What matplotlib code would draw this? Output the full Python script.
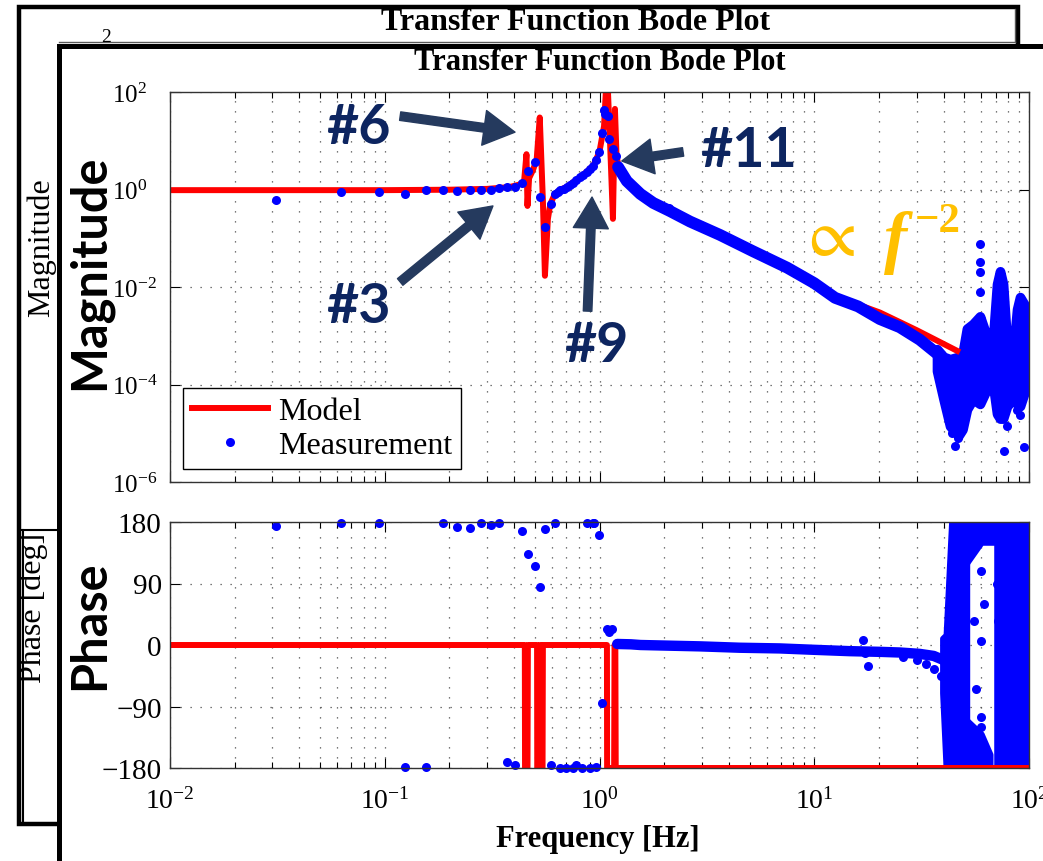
import numpy as np
import matplotlib.pyplot as plt
from matplotlib.patches import Rectangle
from matplotlib.lines import Line2D
from matplotlib.ticker import LogLocator, NullLocator, NullFormatter, LogFormatterMathtext

W, H = 1043, 862

plt.rcParams['font.family'] = ['Liberation Serif', 'DejaVu Serif']
plt.rcParams['mathtext.fontset'] = 'custom'
plt.rcParams['mathtext.rm'] = 'Liberation Serif'
plt.rcParams['mathtext.it'] = 'Liberation Serif:italic'
plt.rcParams['mathtext.bf'] = 'Liberation Serif:bold'

# ---- model (red) ----
model_f = [0.01, 0.1, 0.2, 0.3, 0.38, 0.42, 0.445, 0.457, 0.462, 0.47, 0.49, 0.51, 0.527,
           0.545, 0.557, 0.575, 0.59, 0.62, 0.66, 0.71, 0.76, 0.82, 0.88, 0.94, 1.0, 1.05,
           1.084, 1.12, 1.155, 1.18, 1.20, 1.23, 1.34, 1.55, 1.78, 2.13, 2.64, 3.64, 5.19,
           7.47, 12.5, 20.2, 30.0, 46.3]
model_mag = [0.97, 0.97, 0.99, 1.03, 1.12, 1.25, 1.4, 5.3, 0.46, 1.7, 2.5, 4.2, 30.0,
             0.6, 0.017, 0.25, 0.5, 0.82, 1.0, 1.15, 1.45, 1.85, 2.4, 3.2, 6.0, 20.0,
             300.0, 9.0, 0.25, 45.0, 5.0, 2.8, 1.5, 0.82, 0.54, 0.37, 0.24, 0.12, 0.054,
             0.026, 6.5e-3, 3.0e-3, 1.3e-3, 4.9e-4]
model_ph_f = [0.01, 0.449, 0.450, 0.462, 0.464, 0.512, 0.513, 0.527, 0.528, 0.531, 0.532,
              0.543, 0.545, 1.083, 1.085, 1.17, 1.175, 1.185, 1.19, 100]
model_ph = [0, 0, -180, -180, 0, 0, -180, -180, 0, 0, -180, -180, 0, 0, -180, -180, 0, 0,
            -180, -180]

# ---- measurement (blue), magnitude ----
meas_f = [0.0312, 0.0625, 0.094, 0.124, 0.156, 0.187, 0.217, 0.249, 0.281, 0.313, 0.340,
          0.371, 0.404, 0.435, 0.465, 0.501, 0.528, 0.557, 0.594, 0.621, 0.64, 0.655, 0.68,
          0.706, 0.73, 0.753, 0.78, 0.811, 0.84, 0.875, 0.90, 0.933, 0.96, 0.996, 1.03,
          1.047, 1.06, 1.09, 1.11, 1.15, 1.19, 1.22, 2.1]
meas_mag = [0.61, 0.89, 0.89, 0.81, 0.98, 0.98, 0.95, 0.98, 1.0, 0.98, 1.05,
            1.10, 1.14, 1.36, 2.4, 3.66, 0.70, 0.17, 0.50, 0.81, 0.90, 0.98, 1.03,
            1.1, 1.25, 1.39, 1.6, 1.8, 2.0, 2.29, 2.6, 3.0, 4.0, 5.9, 14.4,
            42.8, 36.0, 32.0, 10.9, 6.8, 4.9, 2.9, 0.42]
band_f = [1.22, 1.34, 1.55, 1.78, 2.13, 2.64, 3.64, 5.19, 7.47, 10.0, 12.5, 16.0, 20.2,
          25.0, 31.0, 37.3]
band_mag = [2.9, 1.49, 0.81, 0.53, 0.36, 0.22, 0.117, 0.054, 0.025, 0.012, 6.0e-3, 4.0e-3,
            2.2e-3, 1.5e-3, 8.3e-4, 4.3e-4]
cloud_f = [37.3, 40.0, 42.9, 47.0, 49.0, 51.4, 54.8, 59.1, 63.7, 68.0, 71.0, 73.3, 75.7,
           79.0, 84.3, 88.0, 90.8, 94.8, 100]
cloud_lo = [1.9e-4, 5.0e-5, 1.4e-5, 9.0e-6, 1.2e-5, 3.1e-5, 5.0e-5, 4.0e-5, 8.1e-5, 1.0e-4,
            2.5e-5, 2.0e-5, 2.0e-5, 3.6e-5, 5.0e-5, 4.0e-5, 3.6e-5, 6.4e-5, 1.3e-4]
cloud_hi = [5.3e-4, 3.7e-4, 3.3e-4, 3.7e-4, 4.2e-4, 1.4e-3, 1.74e-3, 2.5e-3, 9.4e-4, 8.6e-4,
            1.15e-2, 2.1e-2, 1.15e-2, 6.8e-4, 4.2e-4, 3.5e-3, 6.2e-3, 4.5e-3, 2.8e-3]
stray_f = [59.1, 59.1, 59.1, 59.1, 45.2, 46.5, 44.0, 48.0, 76.5, 94.8, 55.5, 60.0, 75.0,
           79.0, 88.0, 91.0]
stray_mag = [0.076, 0.0326, 0.0203, 7.9e-3, 5.5e-6, 8.0e-6, 1.0e-5, 1.1e-5, 4.3e-6, 5.2e-6,
             1.58e-3, 2.2e-3, 2.3e-5, 1.4e-5, 3.0e-5, 2.4e-5]

# ---- measurement (blue), phase ----
meas_ph_f = [0.0312, 0.0625, 0.094, 0.124, 0.156, 0.187, 0.217, 0.249, 0.281, 0.313, 0.340,
             0.371, 0.404, 0.435, 0.465, 0.501, 0.528, 0.557, 0.594, 0.621, 0.655, 0.70,
             0.75, 0.78, 0.83, 0.87, 0.90, 0.93, 0.94, 0.96, 0.996, 1.03, 1.084, 1.11, 1.14]
meas_ph = [174, 178.5, 178, -179, -179, 178, 172, 171, 178, 175, 178,
           -171, -176, 167, 133, 115, 85, 170, -176, 178, -180, -180,
           -180, -175, -180, 178, -180, 178, 178, -178, 161, -85, 23, 19, 23]
ph_band_f = [1.21, 1.4, 1.55, 2.13, 2.94, 4.5, 6.9, 9.9, 14.6, 20.2, 25.1, 31.0, 36.0, 40.0]
ph_band = [1.5, 1, 0, -1, -2, -4, -5, -7, -9, -10, -11, -13, -16, -22]
ph_stray_f = [16.8, 17.3, 17.8, 26, 30, 33, 36, 39, 41, 43, 59.5, 55.5, 59.5, 56.5, 59.5,
              59.5, 71.0, 88.0, 71.5, 62.0]
ph_stray = [8, -12, -31, -18, -22, -28, -35, -45, -55, -64, 108, 35, 6, -64, -105,
            -120, 89, 114, 35, 60]
cloudA_f = [39.5, 41.0, 43.5, 51.4]
cloudA_lo = [-70, -180, -180, -180]
cloudA_hi = [10, 15, 180, 180]
capTop_f = [51.4, 60.0, 69.6]
capTop_lo = [120, 150, 150]
capTop_hi = [180, 180, 180]
capBot_f = [51.4, 60.0, 66.0]
capBot_lo = [-180, -180, -180]
capBot_hi = [-110, -130, -160]
cloudB_f = [71.0, 80.0, 90.0, 100]
cloudB_lo = [-180, -180, -180, -180]
cloudB_hi = [180, 180, 180, 180]

xtick_vals = [1e-2, 1e-1, 1e0, 1e1, 1e2]
mag_ticks = [1e-6, 1e-4, 1e-2, 1e0, 1e2]
ph_ticks = [-180, -90, 0, 90, 180]

RED = '#ff0000'
BLUE = '#0000ff'
NAVY = '#0d2560'
ARROW = '#253a5e'
GOLD = '#ffc000'

fig = plt.figure(figsize=(W / 100, H / 100), dpi=100)

# background: stacked "slide" frames, coordinates in pixels
bg = fig.add_axes([0, 0, 1, 1])
bg.set_xlim(0, W)
bg.set_ylim(H, 0)
bg.axis('off')
bg.add_patch(Rectangle((19, 8), 999, 817, fc='white', ec='black', lw=3.2))
bg.plot([59, 1015], [43, 43], color='0.35', lw=1)
bg.plot([1015, 1015], [10, 43], color='0.35', lw=1)
bg.plot([23, 23], [531, 823], color='black', lw=1.5)
bg.plot([19, 59], [531, 531], color='black', lw=1.5)
bg.text(576, 23, 'Transfer Function Bode Plot', fontsize=23, fontweight='bold',
        ha='center', va='center')
bg.text(106, 38, '2', fontsize=14, ha='center', va='center')
bg.text(41, 248, 'Magnitude', fontsize=23, rotation=90, ha='center', va='center')
bg.text(33, 608, 'Phase [deg]', fontsize=23, rotation=90, ha='center', va='center')
bg.add_patch(Rectangle((59, 47), 1100, 900, fc='white', ec='black', lw=3.6))
bg.text(600, 63, 'Transfer Function Bode Plot', fontsize=22, fontweight='bold',
        ha='center', va='center')
bg.text(598, 840, 'Frequency [Hz]', fontsize=22, fontweight='bold', ha='center', va='center')
bg.text(104, 272, 'Magnitude', family='Lato', fontweight='bold', fontsize=35, rotation=90,
        rotation_mode='anchor', ha='center', va='baseline')
bg.text(104, 625, 'Phase', family='Lato', fontweight='bold', fontsize=35, rotation=90,
        rotation_mode='anchor', ha='center', va='baseline')

ax1 = fig.add_axes([170 / W, 1 - 483 / H, 859 / W, 390 / H])
ax2 = fig.add_axes([170 / W, 1 - 769 / H, 859 / W, 246 / H])

grid_kw = dict(ls=(0, (1, 7)), lw=0.9, color='0.3')
for ax in (ax1, ax2):
    ax.set_xscale('log')
    ax.set_xlim(1e-2, 1e2)
    ax.xaxis.set_major_locator(LogLocator(base=10, numticks=10))
    ax.xaxis.set_minor_locator(LogLocator(base=10, subs=np.arange(2, 10), numticks=20))
    ax.xaxis.set_minor_formatter(NullFormatter())
    ax.set_axisbelow(True)
    ax.xaxis.grid(True, which='both', **grid_kw)
    ax.yaxis.grid(True, which='major', **grid_kw)
    ax.tick_params(which='major', direction='in', length=7, width=0.8, top=True, right=True,
                   labelsize=20, pad=12)
    ax.tick_params(which='minor', direction='in', length=4, width=0.8, top=True, right=True)
    for s in ax.spines.values():
        s.set_color('0.2')
        s.set_linewidth(1.0)

# magnitude panel
model_line, = ax1.plot(model_f, model_mag, color=RED, lw=4.3)
ax1.plot(band_f, band_mag, color=BLUE, lw=8.5, solid_capstyle='round')
ax1.fill_between(cloud_f, cloud_lo, cloud_hi, color=BLUE, ec=BLUE, lw=7, joinstyle='round')
ax1.plot(meas_f, meas_mag, 'o', color=BLUE, ms=6.5, mec='none')
ax1.plot(stray_f, stray_mag, 'o', color=BLUE, ms=6.5, mec='none')
ax1.set_yscale('log')
ax1.set_ylim(1e-6, 1e2)
ax1.set_yticks(mag_ticks)
ax1.yaxis.set_major_formatter(LogFormatterMathtext())
ax1.yaxis.set_minor_locator(NullLocator())
ax1.set_xticks(xtick_vals)
ax1.tick_params(labelbottom=False)
ax1.tick_params(axis='y', labelsize=18, pad=42)
for lab in ax1.get_yticklabels():
    lab.set_horizontalalignment('left')

ax1.legend([model_line, Line2D([], [], ls='none', marker='o', color=BLUE, ms=6.5, mec='none')],
           ['Model', 'Measurement'], loc='lower left', bbox_to_anchor=(0.015, 0.033),
           borderaxespad=0, fontsize=23, fancybox=False, framealpha=1, edgecolor='black',
           handlelength=2.4, handletextpad=0.3, labelspacing=0.15, borderpad=0.28,
           numpoints=1)

# annotations
arrow_kw = dict(arrowstyle='simple,head_length=0.8,head_width=0.9,tail_width=0.22',
                mutation_scale=28, color=ARROW, shrinkA=0, shrinkB=0)
labels = [('#6', (0.075, 19), (0.118, 32), (0.404, 15)),
          ('#3', (0.075, 4.1e-3), (0.118, 0.0127), (0.319, 0.46)),
          ('#9', (0.964, 6.5e-4), (0.88, 3.2e-3), (0.923, 0.70)),
          ('#11', (4.92, 6.5), (2.45, 5.9), (1.27, 3.84))]
for txt, pos, tail, tip in labels:
    ax1.annotate('', xy=tip, xytext=tail, arrowprops=arrow_kw)
    ax1.text(pos[0], pos[1], txt, family='Lato', fontweight='bold', fontsize=40, color=NAVY,
             ha='center', va='center')
ax1.text(11.35, 0.101, r'$\propto$', math_fontfamily='stix', fontsize=50,
         color=GOLD, ha='center', va='center')
ax1.text(23.8, 0.0838, 'f', family='Liberation Serif', fontweight='bold', style='italic',
         fontsize=50, color=GOLD, ha='center', va='center')
ax1.text(37.7, 0.226, '\u22122', family='Liberation Serif', fontweight='bold', fontsize=31,
         color=GOLD, ha='center', va='center')

# phase panel
ax2.plot(model_ph_f, model_ph, color=RED, lw=4.3)
for cf, lo, hi in [(cloudA_f, cloudA_lo, cloudA_hi), (capTop_f, capTop_lo, capTop_hi),
                   (capBot_f, capBot_lo, capBot_hi), (cloudB_f, cloudB_lo, cloudB_hi)]:
    ax2.fill_between(cf, lo, hi, color=BLUE, ec=BLUE, lw=4)
ax2.plot(ph_band_f, ph_band, color=BLUE, lw=7.5, solid_capstyle='round')
ax2.plot(meas_ph_f, meas_ph, 'o', color=BLUE, ms=6.5, mec='none', clip_on=False)
ax2.plot(ph_stray_f, ph_stray, 'o', color=BLUE, ms=6.5, mec='none')
ax2.set_ylim(-180, 180)
ax2.set_yticks(ph_ticks)
ax2.set_xticks(xtick_vals)
ax2.xaxis.set_major_formatter(LogFormatterMathtext())
ax2.tick_params(axis='y', labelsize=21, pad=6)
ax2.tick_params(axis='x', pad=14)

fig.savefig('out.png', dpi=100)
